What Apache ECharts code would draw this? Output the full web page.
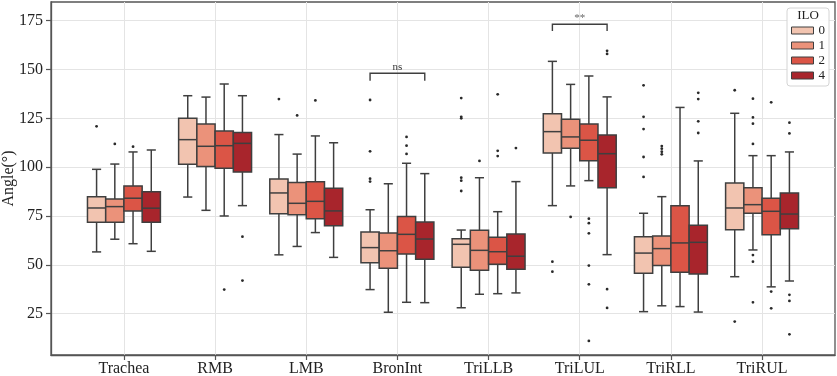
<!DOCTYPE html>
<html>
<head>
<meta charset="utf-8">
<script src="https://cdn.jsdelivr.net/npm/echarts@6/dist/echarts.min.js"></script>
<style>
  html, body { margin: 0; padding: 0; background: #fff; }
  #chart { width: 837px; height: 376px; }
</style>
</head>
<body>
<div id="chart"></div>
<script>
  var categories = ['Trachea', 'RMB', 'LMB', 'BronInt', 'TriLLB', 'TriLUL', 'TriRLL', 'TriRUL'];
  var iloLevels = ['0', '1', '2', '4'];
  var yTicks = [25, 50, 75, 100, 125, 150, 175];

  // [low whisker, Q1, median, Q3, high whisker] per category
  var stats0 = [[56.6, 71.8, 79.1, 84.9, 98.9], [84.7, 101.5, 114.1, 125, 136.6], [55.1, 76.2, 86.8, 94, 116.7], [37.3, 51.1, 58.8, 66.8, 78.2],
    [28, 48.7, 60.5, 63.4, 67.8], [80.3, 107.3, 118.2, 127.4, 154.2], [26, 45.7, 56, 64.4, 76.4], [43.9, 68, 79.1, 91.9, 127.6]];
  var stats1 = [[63.1, 71.8, 79.8, 83.7, 101.6], [77.9, 100.4, 110.7, 122.1, 135.9], [59.4, 75.6, 81.5, 92.1, 106.7], [25.7, 48.2, 57.2, 66.3, 91.5],
    [34.9, 47.2, 57.4, 67.7, 94.6], [90.4, 109.7, 115.5, 124.5, 142.4], [29, 49.6, 58.3, 64.8, 84.9], [57.6, 76.4, 80.8, 89.5, 105.9]];
  var stats2 = [[60.8, 77.6, 84.1, 90.4, 107.8], [75, 99.4, 111, 118.5, 142.6], [66.5, 73.6, 82.5, 92.5, 116], [30.8, 55.5, 65.6, 74.8, 102],
    [35.2, 50.3, 56.7, 64.1, 77.2], [93.1, 103.3, 113.8, 122.1, 146.7], [28.6, 46.2, 61.2, 80.3, 130.6], [38.7, 65.4, 77.4, 84.1, 105.9]];
  var stats4 = [[56.9, 71.8, 79, 87.4, 108.8], [80.3, 97.5, 112.2, 117.8, 136.6], [53.8, 70, 77.6, 89.2, 112.5], [30.6, 52.8, 63.2, 71.9, 96.7],
    [35.6, 47.7, 54.4, 65.8, 92.6], [55.2, 89.5, 106.9, 116.5, 136], [25.8, 45.3, 61.5, 70.2, 103.2], [41.7, 68.5, 76, 86.8, 107.8]];

  // outliers per category
  var out0 = [[120.9], [], [134.9], [134.4, 108.1, 94.1, 92.6], [135.4, 125.8, 125, 94.6, 93.1, 87.8], [51.6, 46.5], [141.9, 125.8, 119.5, 105.2, 95], [139.4, 20.9]];
  var out1 = [[111.9], [], [126.5], [], [103.2], [74.5], [110.8, 109.5, 107.9, 106.6], [135.1, 125.5, 122.3, 111.9, 55, 51.6, 30.8]];
  var out2 = [[110.5], [37.3], [134.2], [115.5, 111, 106.8], [137.3, 108.4, 105.7], [73.6, 71.3, 66.1, 49.6, 40, 11], [], [133.2, 36.3, 27.7]];
  var out4 = [[], [64.4, 41.9], [], [], [109.8], [159.6, 158, 37.5, 27.9], [138.1, 134.9, 123.5, 117.5], [122.8, 117.3, 34.6, 31.5, 14.4]];

  // significance brackets
  var annoCats = ['BronInt', 'TriLUL'];
  var annoTop = [148.1, 173.2];
  var annoDrop = [144.3, 169.7];
  var annoText = ['ns', '**'];

  var statsByLevel = [stats0, stats1, stats2, stats4];
  var outByLevel = [out0, out1, out2, out4];

  var FONT = '"Liberation Serif", "DejaVu Serif", serif';
  var boxColors = ['#f2c4b0', '#eb927a', '#db5546', '#a8252c'];
  var lineColor = '#3f3f3f';
  var spineColor = '#555555';
  var gridColor = '#e4e4e4';

  function hueOffset(api, k) {
    var w = api.size([1, 0])[0] * 0.8 / iloLevels.length;
    return { w: w, dx: (k - (iloLevels.length - 1) / 2) * w };
  }

  function boxSeries(k) {
    var data = statsByLevel[k].map(function (s, i) { return [i].concat(s); });
    return {
      name: iloLevels[k],
      type: 'custom',
      xAxisIndex: 1,
      yAxisIndex: 1,
      itemStyle: { color: boxColors[k] },
      encode: { x: 0, y: [1, 2, 3, 4, 5] },
      data: data,
      renderItem: function (params, api) {
        var i = api.value(0);
        var o = hueOffset(api, k);
        var cx = api.coord([i, 0])[0] + o.dx;
        var y = [1, 2, 3, 4, 5].map(function (d) { return api.coord([i, api.value(d)])[1]; });
        var hw = o.w / 2, cw = o.w / 4;
        var ls = { stroke: lineColor, lineWidth: 1.5 };
        return {
          type: 'group',
          children: [
            { type: 'line', shape: { x1: cx, y1: y[0], x2: cx, y2: y[1] }, style: ls },
            { type: 'line', shape: { x1: cx, y1: y[3], x2: cx, y2: y[4] }, style: ls },
            { type: 'line', shape: { x1: cx - cw, y1: y[0], x2: cx + cw, y2: y[0] }, style: ls },
            { type: 'line', shape: { x1: cx - cw, y1: y[4], x2: cx + cw, y2: y[4] }, style: ls },
            { type: 'rect', shape: { x: cx - hw, y: y[3], width: o.w, height: y[1] - y[3] },
              style: { fill: api.visual('color'), stroke: lineColor, lineWidth: 1.5 } },
            { type: 'line', shape: { x1: cx - hw, y1: y[2], x2: cx + hw, y2: y[2] }, style: ls }
          ]
        };
      }
    };
  }

  function outlierSeries(k) {
    var data = [];
    outByLevel[k].forEach(function (vals, i) {
      vals.forEach(function (v) { data.push([i, v]); });
    });
    return {
      name: iloLevels[k],
      type: 'custom',
      xAxisIndex: 1,
      yAxisIndex: 1,
      itemStyle: { color: boxColors[k] },
      encode: { x: 0, y: 1 },
      data: data,
      renderItem: function (params, api) {
        var o = hueOffset(api, k);
        var p = api.coord([api.value(0), api.value(1)]);
        return { type: 'circle', shape: { cx: p[0] + o.dx, cy: p[1], r: 1.4 }, style: { fill: '#2a2a2a' } };
      }
    };
  }

  var bracketSeries = {
    name: 'sig',
    type: 'custom',
    xAxisIndex: 1,
    yAxisIndex: 1,
    encode: { x: 0, y: [1, 2] },
    data: annoCats.map(function (c, j) { return [categories.indexOf(c), annoTop[j], annoDrop[j]]; }),
    renderItem: function (params, api) {
      var i = api.value(0);
      var o = hueOffset(api, 0);
      var c = api.coord([i, 0])[0];
      var x1 = c + o.dx, x2 = c - o.dx;
      var yt = api.coord([i, api.value(1)])[1];
      var yb = api.coord([i, api.value(2)])[1];
      var txt = annoText[params.dataIndex];
      return {
        type: 'group',
        children: [
          { type: 'polyline', shape: { points: [[x1, yb], [x1, yt], [x2, yt], [x2, yb]] },
            style: { stroke: lineColor, lineWidth: 1.4, fill: null } },
          { type: 'text', x: (x1 + x2) / 2, y: yt - 1,
            style: { text: txt, fill: txt === 'ns' ? '#333' : '#666', font: '11px ' + FONT,
              textAlign: 'center', textVerticalAlign: 'bottom' } }
        ]
      };
    }
  };

  var series = [];
  iloLevels.forEach(function (l, k) { series.push(boxSeries(k)); });
  iloLevels.forEach(function (l, k) { series.push(outlierSeries(k)); });
  series.push(bracketSeries);

  var catTicks = categories.map(function (c, i) { return i; });

  var chart = echarts.init(document.getElementById('chart'));
  chart.setOption({
    animation: false,
    backgroundColor: '#fff',
    grid: [
      { left: 51, right: 2, top: 2, bottom: 21, outerBoundsMode: 'none', containLabel: false,
        show: true, borderColor: spineColor, borderWidth: 1.3, backgroundColor: '#fff' },
      { left: 78.35, right: 29.35, top: 2, bottom: 21, outerBoundsMode: 'none', containLabel: false }
    ],
    xAxis: [
      {
        gridIndex: 0, type: 'value', min: -0.8, max: 7.8,
        axisLine: { show: true, onZero: false, lineStyle: { color: spineColor, width: 1.3 } },
        axisTick: { show: true, customValues: catTicks, length: 5, lineStyle: { color: spineColor, width: 1.2 } },
        axisLabel: {
          customValues: catTicks,
          formatter: function (v) { return categories[Math.round(v)]; },
          fontSize: 16, fontFamily: FONT, color: '#222', margin: 6
        },
        splitLine: { show: true, lineStyle: { color: gridColor, width: 1 } }
      },
      { gridIndex: 1, type: 'category', data: categories, show: false }
    ],
    yAxis: [
      {
        gridIndex: 0, type: 'value', min: 3.8, max: 184.6,
        name: 'Angle(°)', nameLocation: 'middle', nameGap: 34, nameMoveOverlap: false,
        nameTextStyle: { fontSize: 16, fontFamily: FONT, color: '#222' },
        axisLine: { show: true, onZero: false, lineStyle: { color: spineColor, width: 1.3 } },
        axisTick: { show: true, customValues: yTicks, length: 5, lineStyle: { color: spineColor, width: 1.2 } },
        axisLabel: { customValues: yTicks, fontSize: 16, fontFamily: FONT, color: '#222', margin: 8 },
        splitLine: { show: true, lineStyle: { color: gridColor, width: 1 } }
      },
      { gridIndex: 1, type: 'value', min: 3.8, max: 184.6, show: false }
    ],
    legend: {
      data: iloLevels,
      orient: 'vertical',
      left: 787,
      top: 8,
      padding: [15, 4, 3, 4],
      itemGap: 0,
      itemWidth: 22,
      itemHeight: 7,
      icon: 'rect',
      itemStyle: { borderColor: lineColor, borderWidth: 1 },
      textStyle: { fontSize: 13, fontFamily: FONT, color: '#222', lineHeight: 15 },
      backgroundColor: 'rgba(255,255,255,0.9)',
      borderColor: '#d4d4d4',
      borderWidth: 1,
      borderRadius: 3
    },
    graphic: [
      { type: 'text', x: 808, y: 16, z: 100,
        style: { text: 'ILO', font: '13px ' + FONT, fill: '#222', textAlign: 'center', textVerticalAlign: 'middle' } }
    ],
    series: series
  });
</script>
</body>
</html>
